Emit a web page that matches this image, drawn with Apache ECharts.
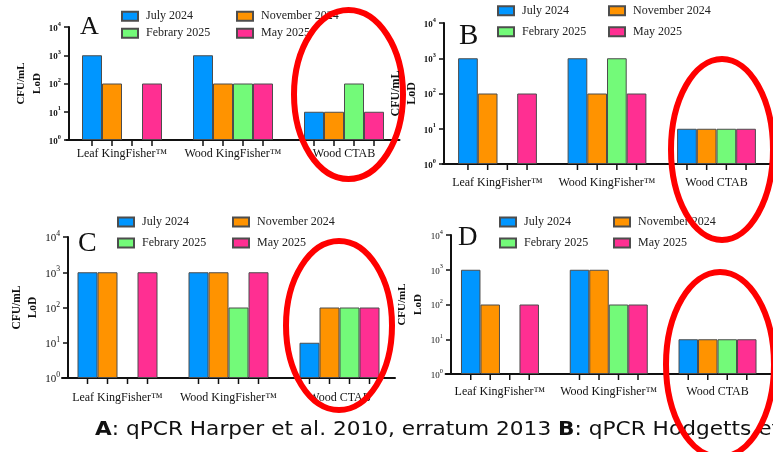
<!DOCTYPE html>
<html>
<head>
<meta charset="utf-8">
<script src="https://cdn.jsdelivr.net/npm/echarts@6/dist/echarts.min.js"></script>
<style>
  html, body { margin: 0; padding: 0; background: #ffffff; }
  #chart { width: 773px; height: 452px; }
</style>
</head>
<body>
<div id="chart"></div>
<script>
// Shared categories and sampling rounds
const categories = ['Leaf KingFisher™', 'Wood KingFisher™', 'Wood CTAB'];
const seriesNames = ['July 2024', 'November 2024', 'Febrary 2025', 'May 2025'];
const panelLetters = ['A', 'B', 'C', 'D'];

// Limit of detection (CFU/mL) per panel, one array per sampling round
const aJuly = [1000, 1000, 10];
const aNovember = [100, 100, 10];
const aFebrary = [null, 100, 100];
const aMay = [100, 100, 10];

const bJuly = [1000, 1000, 10];
const bNovember = [100, 100, 10];
const bFebrary = [null, 1000, 10];
const bMay = [100, 100, 10];

const cJuly = [1000, 1000, 10];
const cNovember = [1000, 1000, 100];
const cFebrary = [null, 100, 100];
const cMay = [1000, 1000, 100];

const dJuly = [1000, 1000, 10];
const dNovember = [100, 1000, 10];
const dFebrary = [null, 100, 10];
const dMay = [100, 100, 10];

const captionText = '{b|A}: qPCR Harper et al. 2010, erratum 2013 {b|B}: qPCR Hodgetts et al.';

const colors = ['#0096FF', '#FF9300', '#73FA79', '#FF2F92'];
const serif = '"Liberation Serif", "Times New Roman", serif';
const sans = '"DejaVu Sans", Verdana, sans-serif';
const ink = '#111111';

// Layout of the four panels
const panels = [
  { values: [aJuly, aNovember, aFebrary, aMay], left: 66.5, top: 27, width: 333, height: 113, barW: 20, yOff: -2.5,
    nameGap: 24, nameSize: 11, labelMargin: 8, tickSize: 9, tickWeight: 'bold',
    legendLeft: [121, 236], legendTop: 9.3, legendGap: 3, letterX: 80, letterY: 27.5, letterSize: 26 },
  { values: [bJuly, bNovember, bFebrary, bMay], left: 442.75, top: 23, width: 328.5, height: 141, barW: 19.7, yOff: -1.25,
    nameGap: 22, nameSize: 12, labelMargin: 13, tickSize: 9, tickWeight: 'bold',
    legendLeft: [497, 608], legendTop: 3.7, legendGap: 7, letterX: 459, letterY: 36, letterSize: 29 },
  { values: [cJuly, cNovember, cFebrary, cMay], left: 62, top: 237, width: 333, height: 141, barW: 20, yOff: -6,
    nameGap: 26, nameSize: 11.5, labelMargin: 14, tickSize: 11, tickWeight: 'normal',
    legendLeft: [117, 232], legendTop: 215, legendGap: 7, letterX: 78, letterY: 243.5, letterSize: 28 },
  { values: [dJuly, dNovember, dFebrary, dMay], left: 445.6, top: 235, width: 326.3, height: 139, barW: 19.5, yOff: -5.4,
    nameGap: 25, nameSize: 11, labelMargin: 12, tickSize: 9, tickWeight: 'normal',
    legendLeft: [499, 613], legendTop: 215, legendGap: 7, letterX: 458, letterY: 238, letterSize: 27 }
];

// Red ellipses highlighting the Wood CTAB groups
const ellipses = [
  { cx: 348.5, cy: 94.5, rx: 54.5, ry: 84.5 },
  { cx: 722, cy: 149.5, rx: 51, ry: 90.5 },
  { cx: 339, cy: 325.5, rx: 53, ry: 84.5 },
  { cx: 720, cy: 364.5, rx: 54, ry: 92.5 }
];

const grid = [], xAxis = [], yAxis = [], series = [], legend = [], graphic = [];

panels.forEach((p, i) => {
  grid.push({ left: p.left, top: p.top, width: p.width, height: p.height, outerBoundsMode: 'none' });

  xAxis.push({
    type: 'category', gridIndex: i, data: categories,
    axisLine: { show: true, lineStyle: { color: ink, width: 2 } },
    axisTick: { show: false },
    axisLabel: { interval: 0, margin: p.labelMargin, color: ink, fontFamily: serif, fontSize: 12 },
    splitLine: { show: false }
  });

  yAxis.push({
    type: 'log', logBase: 10, gridIndex: i, min: 1, max: 10000, splitNumber: 4,
    offset: p.yOff, z: i === 1 ? 120 : 0,
    axisLine: { show: true, lineStyle: { color: ink, width: 2 } },
    axisTick: { show: true, length: 5, lineStyle: { color: ink, width: 1.5 } },
    minorTick: { show: false },
    splitLine: { show: false },
    axisLabel: {
      margin: 8, color: ink,
      formatter: v => '{b|10}{s|' + Math.round(Math.log10(v)) + '}',
      rich: {
        b: { fontFamily: serif, fontSize: p.tickSize, fontWeight: p.tickWeight, color: ink,
             lineHeight: p.tickSize + 3, verticalAlign: 'bottom' },
        s: { fontFamily: serif, fontSize: p.tickSize * 0.7, fontWeight: p.tickWeight, color: ink,
             lineHeight: p.tickSize * 0.7, verticalAlign: 'top' }
      }
    },
    name: 'CFU/mL\nLoD', nameLocation: 'middle', nameGap: p.nameGap,
    nameTextStyle: { fontFamily: serif, fontWeight: 'bold', fontSize: p.nameSize, lineHeight: 16, color: ink }
  });

  seriesNames.forEach((name, k) => {
    series.push({
      type: 'bar', name, xAxisIndex: i, yAxisIndex: i,
      data: p.values[k], barWidth: p.barW, barGap: '0%',
      itemStyle: { color: colors[k], borderColor: '#4d4d4d', borderWidth: 1 },
      emphasis: { disabled: true }
    });
  });

  // Tick marks under every bar slot on the category axis
  const bw = p.barW;
  series.push({
    type: 'custom', xAxisIndex: i, yAxisIndex: i, silent: true, clip: false, z: 5,
    encode: { x: 0, y: 1 },
    data: categories.map((c, j) => [j, 1]),
    renderItem(params, api) {
      const base = api.coord([api.value(0), 1]);
      const children = [];
      for (let j = 0; j < seriesNames.length; j++) {
        const x = base[0] + (j - (seriesNames.length - 1) / 2) * bw;
        children.push({ type: 'line', shape: { x1: x, y1: base[1], x2: x, y2: base[1] + 6 },
          style: { stroke: ink, lineWidth: 1.5 } });
      }
      return { type: 'group', children };
    }
  });

  [[seriesNames[0], seriesNames[2]], [seriesNames[1], seriesNames[3]]].forEach((names, c) => {
    legend.push({
      orient: 'vertical', left: p.legendLeft[c], top: p.legendTop, padding: 0,
      itemWidth: 16, itemHeight: 9, itemGap: p.legendGap, icon: 'rect', selectedMode: false,
      data: names,
      textStyle: { fontFamily: serif, fontSize: 12, color: '#222', lineHeight: 14, padding: [0, 0, 0, 3] }
    });
  });

  graphic.push({
    type: 'text', x: p.letterX, y: p.letterY, z: 10,
    style: { text: panelLetters[i], fontFamily: serif, fontSize: p.letterSize, fill: ink, verticalAlign: 'middle', align: 'left' }
  });
});

ellipses.forEach(e => {
  graphic.push({
    type: 'ellipse', z: 100, silent: true,
    shape: { cx: e.cx, cy: e.cy, rx: e.rx, ry: e.ry },
    style: { fill: 'none', stroke: '#ff0000', lineWidth: 6 }
  });
});

// Caption line under the panels (wide sans face)
graphic.push({
  type: 'text', x: 95, y: 430, z: 90, scaleX: 1.14,
  style: {
    text: captionText, fontFamily: sans, fontSize: 19, fill: '#111',
    verticalAlign: 'middle', align: 'left',
    rich: { b: { fontFamily: sans, fontSize: 19, fontWeight: 'bold', fill: '#111' } }
  }
});

const chart = echarts.init(document.getElementById('chart'), null, { renderer: 'canvas' });
chart.setOption({
  backgroundColor: '#ffffff',
  animation: false,
  tooltip: { show: false },
  grid, xAxis, yAxis, legend, series, graphic
});
</script>
</body>
</html>
